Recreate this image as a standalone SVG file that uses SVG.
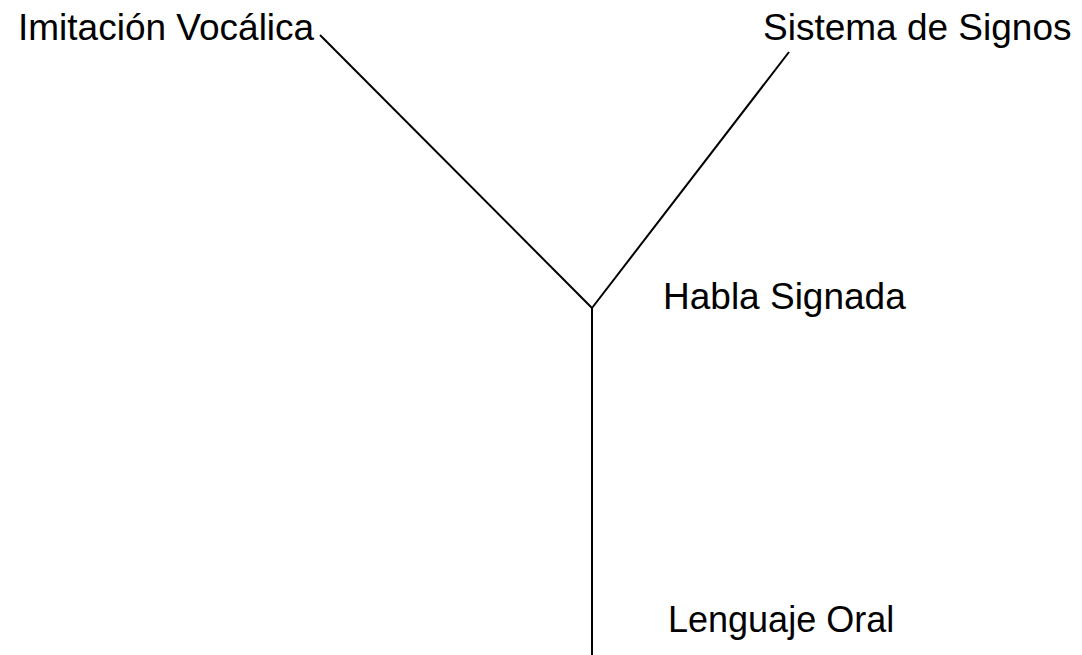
<svg xmlns="http://www.w3.org/2000/svg" width="1082" height="655" viewBox="0 0 1082 655">
<style>
.t{font-family:"Liberation Sans",Arial,sans-serif;font-size:37px;fill:#000}
.c{stroke:#000;stroke-width:2;fill:none}
</style>
<rect width="1082" height="655" fill="#fff"/>
<g id="connectors">
<line class="c" x1="320" y1="35" x2="592" y2="308"/>
<line class="c" x1="789" y1="52" x2="592" y2="308"/>
<line class="c" x1="592" y1="308" x2="592" y2="655"/>
</g>
<g id="imitacion"><text class="t" x="18" y="40">Imitación Vocálica</text></g>
<g id="sistema"><text class="t" x="763" y="40">Sistema de Signos</text></g>
<g id="habla"><text class="t" x="663" y="309">Habla Signada</text></g>
<g id="lenguaje"><text class="t" x="668" y="632" style="font-size:36px">Lenguaje Oral</text></g>
</svg>
